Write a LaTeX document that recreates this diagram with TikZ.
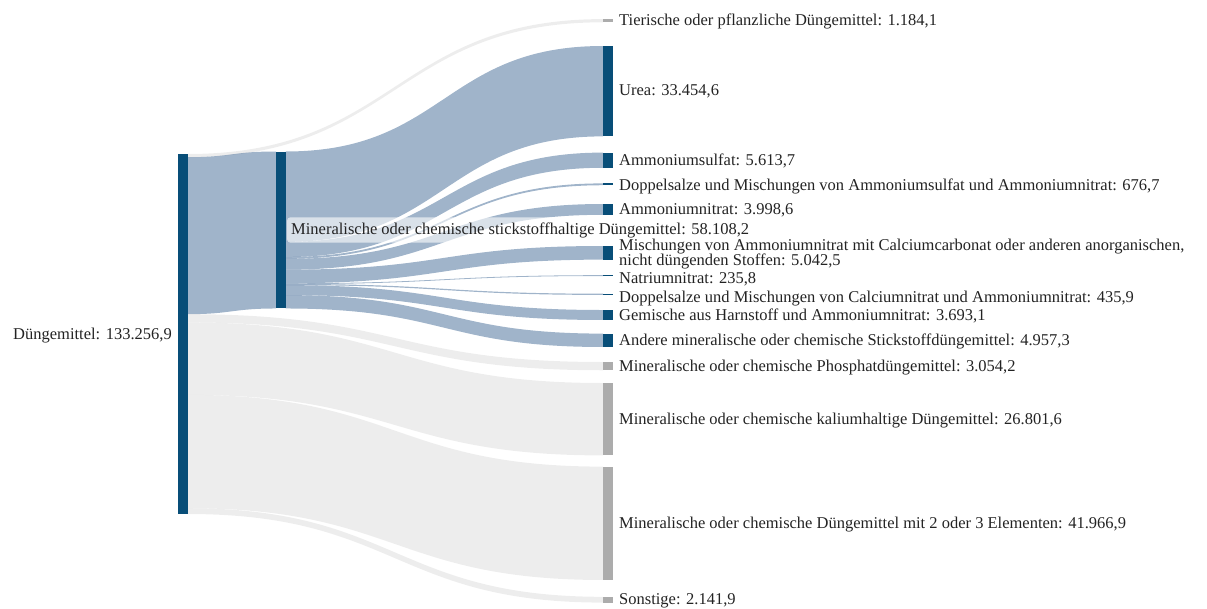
\documentclass[tikz,border=0pt]{standalone}
\usepackage{fontspec}
\setmainfont{Liberation Serif}
\usetikzlibrary{calc}
\pgfdeclarelayer{flows}
\pgfsetlayers{flows,main}
\definecolor{barblue}{RGB}{8,78,120}
\definecolor{bargray}{RGB}{172,172,172}
\definecolor{flowblue}{RGB}{44,88,137}
\definecolor{flowgray}{RGB}{200,200,200}
\definecolor{txt}{RGB}{35,35,35}
\newcommand\tightlines{\fontsize{16.5}{15}\selectfont\lineskiplimit=-20pt\relax}
\tikzset{
  bar/.style={rectangle, inner sep=0pt, outer sep=0pt, minimum width=9.5pt, anchor=north west},
  bluebar/.style={bar, fill=barblue},
  graybar/.style={bar, fill=bargray},
  bflow/.style={fill=flowblue, fill opacity=0.45},
  gflow/.style={fill=flowgray, fill opacity=0.32},
  lbl/.style={anchor=west, inner sep=0pt, text=txt, font=\fontsize{16.5}{17}\selectfont},
}
% #1 source node, #2 offset at source, #3 target node, #4 offset at target, #5 width, #6 style
\newcommand\sflow[6]{%
  \path ($(#1.north east)+(0,{#2})$) coordinate (fa)
        ($(#1.north east)+(0,{#2+#5})$) coordinate (fb)
        ($(#3.north west)+(0,{#4})$) coordinate (ga)
        ($(#3.north west)+(0,{#4+#5})$) coordinate (gb)
        ($(fa)!0.5!(ga)$) coordinate (fm);
  \fill[#6] (fa) .. controls (fm|-fa) and (fm|-ga) .. (ga) -- (gb)
        .. controls (fm|-gb) and (fm|-fb) .. (fb) -- cycle;
}
\begin{document}
\begin{tikzpicture}[x=1pt,y=-1pt]
\useasboundingbox (0,0) rectangle (1207,608);
% nodes (bars)
\node[bluebar, minimum height=360pt] (D) at (178,154) {};
\node[bluebar, minimum height=156.98pt] (N) at (276,151.5) {};
\node[graybar, minimum height=3.2pt] (T) at (603,19.1) {};
\node[bluebar, minimum height=90.38pt] (U) at (603,46) {};
\node[bluebar, minimum height=15.17pt] (AS) at (603,152.6) {};
\node[bluebar, minimum height=1.83pt] (DA) at (603,183.4) {};
\node[bluebar, minimum height=10.8pt] (AN) at (603,204) {};
\node[bluebar, minimum height=13.62pt] (MI) at (603,246) {};
\node[bluebar, minimum height=1pt] (NN) at (603,275.2) {};
\node[bluebar, minimum height=1.18pt] (DC) at (603,293.7) {};
\node[bluebar, minimum height=9.98pt] (GE) at (603,310) {};
\node[bluebar, minimum height=13.39pt] (AM) at (603,333.6) {};
\node[graybar, minimum height=8.25pt] (P) at (603,362) {};
\node[graybar, minimum height=72.41pt] (K) at (603,383) {};
\node[graybar, minimum height=113.38pt] (E) at (603,466.6) {};
\node[graybar, minimum height=5.79pt] (S) at (603,596.8) {};
% flows
\begin{pgfonlayer}{flows}
\sflow{D}{0}{T}{0}{3.2}{gflow}
\sflow{D}{3.2}{N}{0}{156.98}{bflow}
\sflow{D}{160.18}{P}{0}{8.25}{gflow}
\sflow{D}{168.43}{K}{0}{72.41}{gflow}
\sflow{D}{240.84}{E}{0}{113.38}{gflow}
\sflow{D}{354.22}{S}{0}{5.78}{gflow}
\sflow{N}{0}{U}{0}{90.38}{bflow}
\sflow{N}{90.38}{AS}{0}{15.17}{bflow}
\sflow{N}{105.55}{DA}{0}{1.83}{bflow}
\sflow{N}{107.38}{AN}{0}{10.8}{bflow}
\sflow{N}{118.18}{MI}{0}{13.62}{bflow}
\sflow{N}{131.8}{NN}{0}{0.8}{bflow}
\sflow{N}{132.44}{DC}{0}{1.18}{bflow}
\sflow{N}{133.62}{GE}{0}{9.98}{bflow}
\sflow{N}{143.6}{AM}{0}{13.38}{bflow}
\end{pgfonlayer}
% labels
\node[lbl, anchor=east] (LD) at ($(D.west)+(-6,1.5)$) {Düngemittel: 133.256,9};
\node[lbl, fill=white, fill opacity=0.6, text opacity=1, rounded corners=3pt,
      inner xsep=4pt, inner ysep=5pt] (LN) at (287,230)
      {Mineralische oder chemische stickstoffhaltige Düngemittel: 58.108,2};
\node[lbl] (LT) at ($(T.east)+(6.5,0.5)$) {Tierische oder pflanzliche Düngemittel: 1.184,1};
\node[lbl] (LU) at ($(U.east)+(6.5,0.5)$) {Urea: 33.454,6};
\node[lbl] (LAS) at ($(AS.east)+(6.5,1)$) {Ammoniumsulfat: 5.613,7};
\node[lbl] (LDA) at ($(DA.east)+(6.5,2.5)$) {Doppelsalze und Mischungen von Ammoniumsulfat und Ammoniumnitrat: 676,7};
\node[lbl] (LAN) at ($(AN.east)+(6.5,1)$) {Ammoniumnitrat: 3.998,6};
\node[lbl, align=left, font=\tightlines] (LMI) at ($(MI.east)+(6.5,1.5)$)
  {Mischungen von Ammoniumnitrat mit Calciumcarbonat oder anderen anorganischen,\\nicht düngenden Stoffen: 5.042,5};
\node[lbl] (LNN) at ($(NN.east)+(6.5,4)$) {Natriumnitrat: 235,8};
\node[lbl] (LDC) at ($(DC.east)+(6.5,4)$) {Doppelsalze und Mischungen von Calciumnitrat und Ammoniumnitrat: 435,9};
\node[lbl] (LGE) at ($(GE.east)+(6.5,1)$) {Gemische aus Harnstoff und Ammoniumnitrat: 3.693,1};
\node[lbl] (LAM) at ($(AM.east)+(6.5,1)$) {Andere mineralische oder chemische Stickstoffdüngemittel: 4.957,3};
\node[lbl] (LP) at ($(P.east)+(6.5,1)$) {Mineralische oder chemische Phosphatdüngemittel: 3.054,2};
\node[lbl] (LK) at ($(K.east)+(6.5,1)$) {Mineralische oder chemische kaliumhaltige Düngemittel: 26.801,6};
\node[lbl] (LE) at ($(E.east)+(6.5,1)$) {Mineralische oder chemische Düngemittel mit 2 oder 3 Elementen: 41.966,9};
\node[lbl] (LS) at ($(S.east)+(6.5,1)$) {Sonstige: 2.141,9};
\end{tikzpicture}
\end{document}
